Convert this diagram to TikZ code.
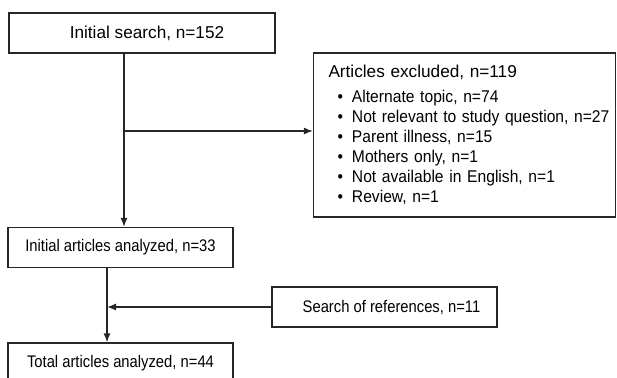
\documentclass[tikz,border=0pt]{standalone}
\usepackage{fontspec}
\setmainfont{Liberation Sans}
\newfontfamily\narrowsans[FakeStretch=0.88]{Liberation Sans}
\newfontfamily\bulletsans[FakeStretch=0.92]{Liberation Sans}
\usetikzlibrary{arrows.meta,positioning,calc}

\tikzset{
    stagebox/.style={draw=black!85, line width=1.2pt, minimum width=225pt, minimum height=40pt,
        inner sep=0pt, font=\narrowsans\fontsize{16.8}{20}\selectfont},
    flow/.style={draw=black!85, line width=1.3pt},
    flowarrow/.style={flow, -{Latex[length=9pt,width=7pt]}}
}
\newcommand{\exhead}[1]{\hspace*{14pt}\mbox{\fontsize{17.2}{20}\selectfont #1}}
\newcommand{\exitem}[1]{\hspace*{23pt}\mbox{\bulletsans\textbullet\hspace{9pt}#1}}

\begin{document}
\begin{tikzpicture}[x=1pt,y=-1pt]
    \useasboundingbox (0,0) rectangle (617,377);
    \clip (0,0) rectangle (617,377);

    % Boxes
    \node[stagebox, minimum width=266pt, font=\fontsize{17.2}{20}\selectfont] (search) at (142,33)
        {\hspace*{10pt}Initial search, n=152};
    \node[stagebox, minimum width=302pt, minimum height=164pt, text width=300pt, inner xsep=1pt,
        align=left, font=\fontsize{17}{20}\selectfont] (excl) at (464.5,135)
        {\exhead{Articles excluded, n=119}\\[5pt]
         \exitem{Alternate topic, n=74}\\
         \exitem{Not relevant to study question, n=27}\\
         \exitem{Parent illness, n=15}\\
         \exitem{Mothers only, n=1}\\
         \exitem{Not available in English, n=1}\\
         \exitem{Review, n=1}};
    \node[stagebox] (initial) at (120.5,247.5) {Initial articles analyzed, n=33};
    \node[stagebox] (refs) at (384.5,307) {\hspace*{14pt}Search of references, n=11};
    \node[stagebox] (total) at (120.5,363) {Total articles analyzed, n=44};

    % Connectors
    \coordinate (top) at (124,53);
    \coordinate (split) at (124,131);
    \coordinate (low) at (107,268);
    \coordinate (join) at (107,307);
    \draw[flowarrow] (top) -- (top |- initial.north);
    \draw[flowarrow] (split) -- (split -| excl.west);
    \draw[flowarrow] (low) -- (low |- total.north);
    \draw[flowarrow] (refs.west) -- (join);
\end{tikzpicture}
\end{document}
